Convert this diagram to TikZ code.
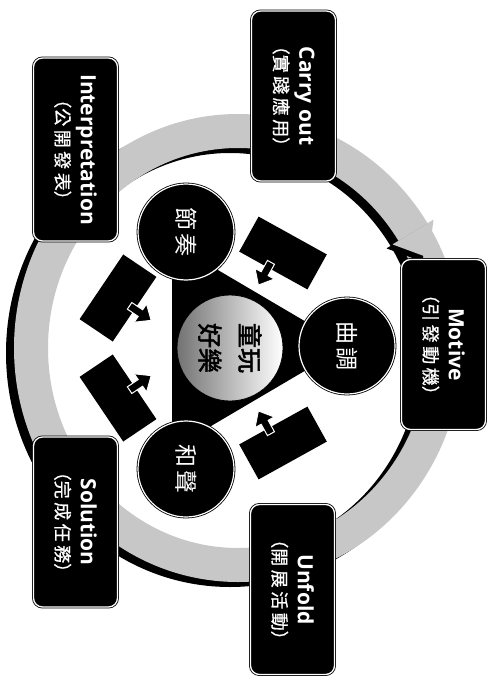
\documentclass[tikz,border=0pt]{standalone}
\usepackage{fontspec}
\setmainfont{Open Sans}
\newfontfamily\cjk{Noto Sans CJK TC}
\newfontfamily\cjkbold[FakeBold=2]{Noto Sans CJK TC}
\newfontfamily\cjksemi[FakeBold=0.8]{Noto Sans CJK TC}
\usetikzlibrary{calc}
\definecolor{ringgray}{gray}{0.78}
\newcommand\cg{\kern3.5pt}
\newcommand\boxtext[2]{{\bfseries #1}\\{\cjksemi\fontsize{18}{25}\selectfont #2}}
\begin{document}
\begin{tikzpicture}[x=1pt,y=-1pt,
  stagebox/.style={rectangle, rounded corners=9pt, fill=black, draw=black,
    double=white, double distance=1.3pt, line width=0.8pt, rotate=-90,
    minimum width=170pt, minimum height=84pt, align=center, text=white,
    inner sep=2pt, font=\fontsize{21}{25}\selectfont},
  stagecirc/.style={circle, fill=black, draw=black, double=white,
    double distance=1.2pt, line width=0.8pt, minimum size=96pt,
    text=white, rotate=-90, inner sep=0pt, font=\cjk\fontsize{23}{23}\selectfont},
  cardbody/.style={fill=black},
  cardedge/.style={draw=white, line width=1.3pt},
  cardarrow/.style={fill=black, draw=white, line width=1pt, line join=miter},
  cardshort/.pic={
    \fill[cardbody] (-39,-20) rectangle (39,20);
    \draw[cardedge] (-43,-21) -- (-43,21);
    \filldraw[cardarrow] (-10,14) -- (-2,14) -- (-2,27) -- (5,27) -- (-6,40)
      -- (-17,27) -- (-10,27) -- cycle;
  },
  cardlong/.pic={
    \fill[cardbody] (-39,-20) rectangle (39,20);
    \draw[cardedge] (-40,-24) -- (40,-24);
    \filldraw[cardarrow] (-4,14) -- (4,14) -- (4,27) -- (11,27) -- (0,40)
      -- (-11,27) -- (-4,27) -- cycle;
  }
]
\useasboundingbox (0,0) rectangle (495,687);
\fill[white] (0,0) rectangle (495,687);

% outer cycle ring with shadow
\fill[black, even odd rule] (230,353) ellipse [x radius=224, y radius=234]
  (230,353) ellipse [x radius=190, y radius=200];
\fill[ringgray, even odd rule] (238,348) ellipse [x radius=224, y radius=234]
  (238,348) ellipse [x radius=190, y radius=200];
% arrow head of the ring, pointing into Motive
\coordinate (ahA) at (433.5,219.6);
\coordinate (ahB) at (392.5,244.4);
\coordinate (ahC) at (428.5,257.7);
\fill[black] ($(ahA)+(-6,4)$) -- ($(ahB)+(-6,4)$) -- ($(ahC)+(-6,4)$) -- cycle;
\fill[ringgray] (ahA) -- (ahB) -- (ahC) -- cycle;

% central triangle
\coordinate (tA) at (172,243);
\coordinate (tB) at (172,449);
\coordinate (tC) at (347,346);
\fill[black] (tA) -- (tB) -- (tC) -- cycle;

% arrow cards
\pic[rotate=-29] (cardTR) at (283,253) {cardshort};
\pic[rotate=29, yscale=-1] (cardBR) at (283,443) {cardshort};
\pic[rotate=56] (cardTL) at (118,298) {cardlong};
\pic[rotate=-56, yscale=-1] (cardBL) at (118,398) {cardlong};

% element circles
\node[stagecirc] (rhythm) at (186,232) {節\kern3pt 奏};
\node[stagecirc] (melody) at (347,346) {曲\kern3pt 調};
\node[stagecirc] (harmony) at (186,469) {和\kern3pt 聲};

% core circle
\node[circle, minimum size=106pt, left color=black!55, right color=white,
  draw=black, line width=0.8pt] (core) at (230,348) {};
\node[rotate=-90, align=center, text=black, inner sep=0pt,
  font=\cjkbold\fontsize{25}{40}\selectfont] (coretext) at (core.center) {童玩\\好樂};

% stage boxes
\node[stagebox] (carry) at (293.5,96) {\boxtext{Carry out}{（實\cg 踐\cg 應\cg 用）}};
\node[stagebox, minimum width=183pt] (interp) at (75.5,149.5) {\boxtext{Interpretation}{（公\cg 開\cg 發\cg 表）}};
\node[stagebox] (motive) at (443.5,344.5) {\boxtext{Motive}{（引\cg 發\cg 動\cg 機）}};
\node[stagebox] (unfold) at (292.5,589.5) {\boxtext{Unfold}{（開\cg 展\cg 活\cg 動）}};
\node[stagebox] (solution) at (75.5,522) {\boxtext{Solution}{（完\cg 成\cg 任\cg 務）}};
\end{tikzpicture}
\end{document}
